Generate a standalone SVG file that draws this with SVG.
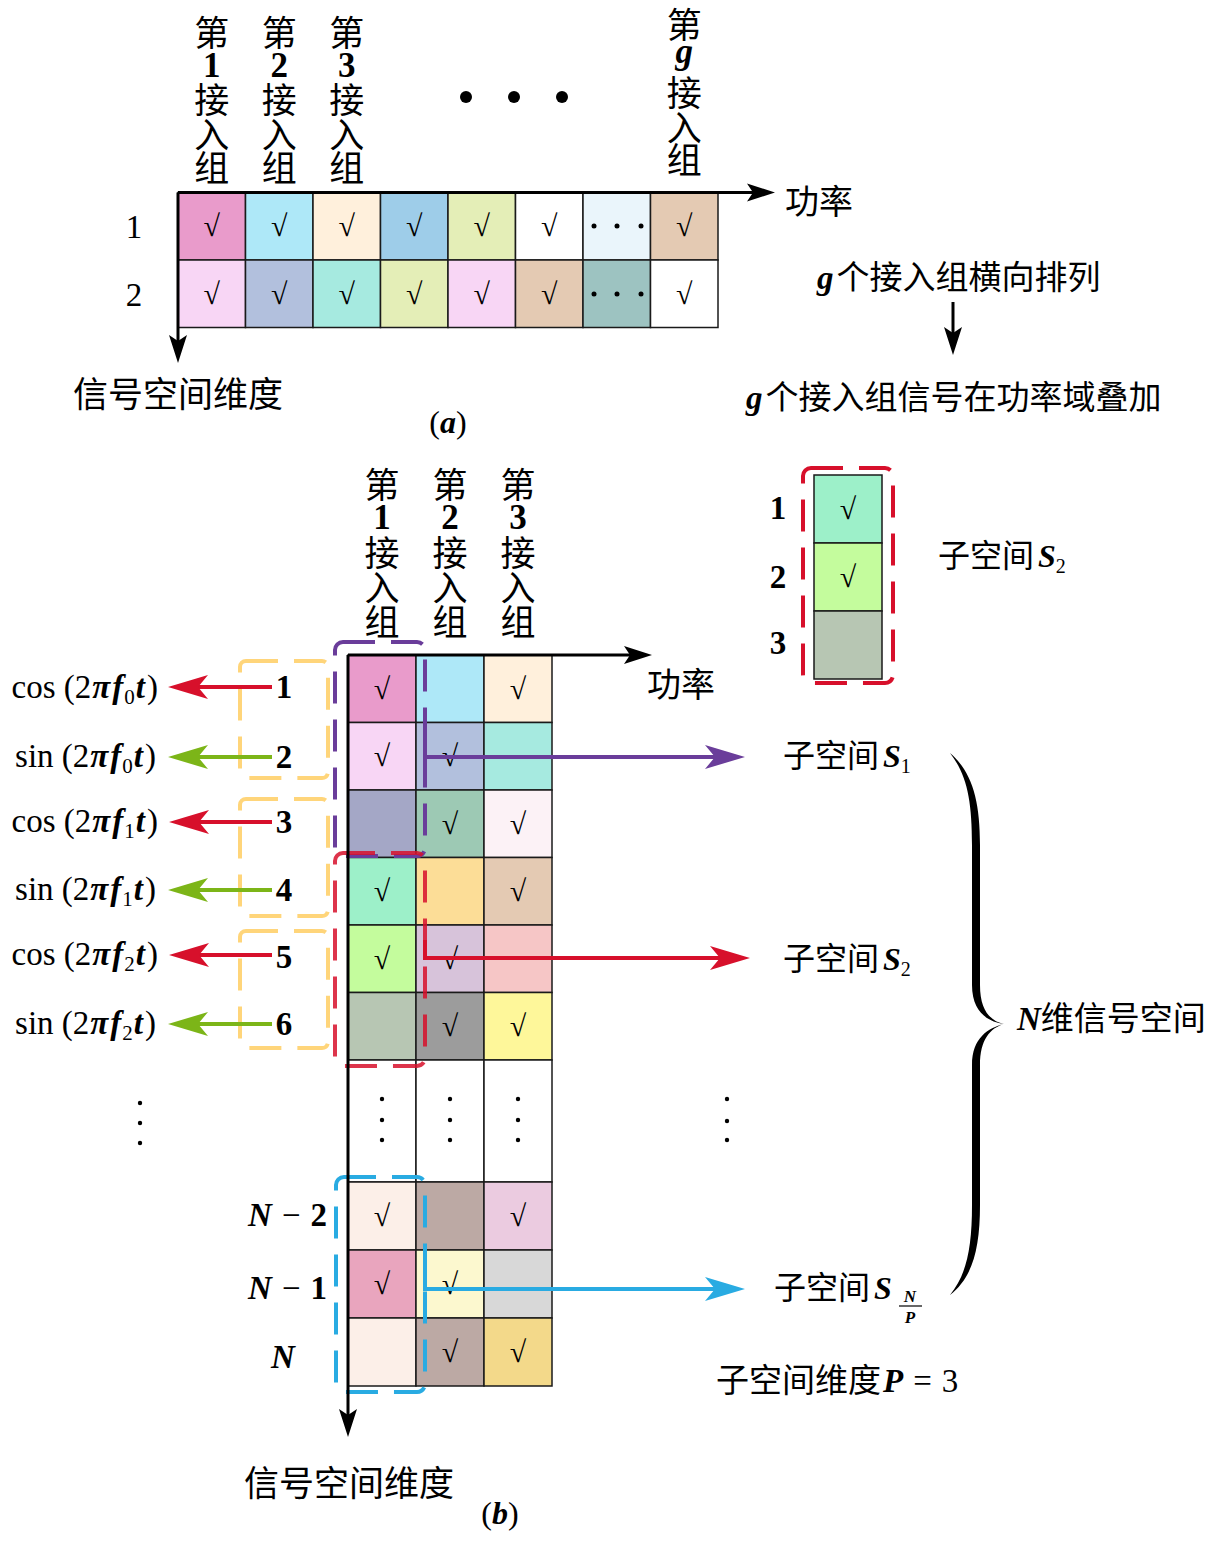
<svg xmlns="http://www.w3.org/2000/svg" width="1218" height="1546" viewBox="0 0 1218 1546">
<defs>
<style>
text { font-family: "Liberation Serif","Noto Sans CJK SC",serif; fill:#000; }
.bi { font-weight:bold; font-style:italic; }
.b { font-weight:bold; }
.ck { font-size:30px; text-anchor:middle; }
.hz { font-size:35px; text-anchor:middle; }
.hd { font-weight:bold; }
.fn { font-size:33px; }
.num { font-size:33px; font-weight:bold; text-anchor:middle; }
.cell { stroke:#1a1a1a; stroke-width:1.5; }
.axis { stroke:#000; stroke-width:3; fill:none; }
.dash { fill:none; stroke-width:4; stroke-dasharray:32 16; }
.conn { fill:none; stroke-width:4; }
.red { stroke:#D7102B; }
.grn { stroke:#7CB518; }
.pur { stroke:#6A3D9A; }
.blu { stroke:#29ABE2; }
.yel { stroke:#FFD57A; }
</style>
<marker id="mk-black" viewBox="-22 -10 32 20" refX="0" refY="0" markerWidth="32" markerHeight="20" markerUnits="userSpaceOnUse" orient="auto"><path d="M8,0 L-20,-9 L-14,0 L-20,9 Z" fill="#000"/></marker>
<marker id="mk-red" viewBox="-34 -14 44 28" refX="0" refY="0" markerWidth="44" markerHeight="28" markerUnits="userSpaceOnUse" orient="auto"><path d="M8,0 L-32,-12 L-22,0 L-32,12 Z" fill="#D7102B"/></marker>
<marker id="mk-grn" viewBox="-34 -14 44 28" refX="0" refY="0" markerWidth="44" markerHeight="28" markerUnits="userSpaceOnUse" orient="auto"><path d="M8,0 L-32,-12 L-22,0 L-32,12 Z" fill="#7CB518"/></marker>
<marker id="mk-pur" viewBox="-34 -14 44 28" refX="0" refY="0" markerWidth="44" markerHeight="28" markerUnits="userSpaceOnUse" orient="auto"><path d="M8,0 L-32,-12 L-22,0 L-32,12 Z" fill="#6A3D9A"/></marker>
<marker id="mk-blu" viewBox="-34 -14 44 28" refX="0" refY="0" markerWidth="44" markerHeight="28" markerUnits="userSpaceOnUse" orient="auto"><path d="M8,0 L-32,-12 L-22,0 L-32,12 Z" fill="#29ABE2"/></marker>
</defs>
<rect width="1218" height="1546" fill="#fff"/>

<!-- ================= (a) ================= -->
<g id="a-headers">
  <text class="hz"><tspan x="211.75" y="46">第</tspan><tspan class="hd" x="211.75" y="77">1</tspan><tspan x="211.75" y="113">接</tspan><tspan x="211.75" y="148">入</tspan><tspan x="211.75" y="181">组</tspan></text>
  <text class="hz"><tspan x="279.25" y="46">第</tspan><tspan class="hd" x="279.25" y="77">2</tspan><tspan x="279.25" y="113">接</tspan><tspan x="279.25" y="148">入</tspan><tspan x="279.25" y="181">组</tspan></text>
  <text class="hz"><tspan x="346.75" y="46">第</tspan><tspan class="hd" x="346.75" y="77">3</tspan><tspan x="346.75" y="113">接</tspan><tspan x="346.75" y="148">入</tspan><tspan x="346.75" y="181">组</tspan></text>
  <text class="hz"><tspan x="684.25" y="38">第</tspan><tspan class="bi" x="684.25" y="63">g</tspan><tspan x="684.25" y="106">接</tspan><tspan x="684.25" y="141">入</tspan><tspan x="684.25" y="173">组</tspan></text>
  <circle cx="466" cy="97" r="6"/><circle cx="514" cy="97" r="6"/><circle cx="562" cy="97" r="6"/>
</g>
<g id="a-row1">
  <rect class="cell" x="178" y="192.5" width="67.5" height="67.5" fill="#E99BCB"/>
  <rect class="cell" x="245.5" y="192.5" width="67.5" height="67.5" fill="#AEE8F8"/>
  <rect class="cell" x="313" y="192.5" width="67.5" height="67.5" fill="#FFF0DC"/>
  <rect class="cell" x="380.5" y="192.5" width="67.5" height="67.5" fill="#9ECDE9"/>
  <rect class="cell" x="448" y="192.5" width="67.5" height="67.5" fill="#E4EEB7"/>
  <rect class="cell" x="515.5" y="192.5" width="67.5" height="67.5" fill="#FFFFFF"/>
  <rect class="cell" x="583" y="192.5" width="67.5" height="67.5" fill="#EAF5FB"/>
  <rect class="cell" x="650.5" y="192.5" width="67.5" height="67.5" fill="#E4CAB3"/>
  <text class="ck" x="211.75" y="236">√</text><text class="ck" x="279.25" y="236">√</text><text class="ck" x="346.75" y="236">√</text><text class="ck" x="414.25" y="236">√</text><text class="ck" x="481.75" y="236">√</text><text class="ck" x="549.25" y="236">√</text><text class="ck" x="684.25" y="236">√</text>
  <circle cx="594" cy="226" r="2.5"/><circle cx="617" cy="226" r="2.5"/><circle cx="641" cy="226" r="2.5"/>
</g>
<g id="a-row2">
  <rect class="cell" x="178" y="260" width="67.5" height="67.5" fill="#F8D6F5"/>
  <rect class="cell" x="245.5" y="260" width="67.5" height="67.5" fill="#B2C0DD"/>
  <rect class="cell" x="313" y="260" width="67.5" height="67.5" fill="#A6EAE0"/>
  <rect class="cell" x="380.5" y="260" width="67.5" height="67.5" fill="#E4EEB7"/>
  <rect class="cell" x="448" y="260" width="67.5" height="67.5" fill="#F8D6F5"/>
  <rect class="cell" x="515.5" y="260" width="67.5" height="67.5" fill="#E4CAB3"/>
  <rect class="cell" x="583" y="260" width="67.5" height="67.5" fill="#9DC3C1"/>
  <rect class="cell" x="650.5" y="260" width="67.5" height="67.5" fill="#FFFFFF"/>
  <text class="ck" x="211.75" y="304">√</text><text class="ck" x="279.25" y="304">√</text><text class="ck" x="346.75" y="304">√</text><text class="ck" x="414.25" y="304">√</text><text class="ck" x="481.75" y="304">√</text><text class="ck" x="549.25" y="304">√</text><text class="ck" x="684.25" y="304">√</text>
  <circle cx="594" cy="294" r="2.5"/><circle cx="617" cy="294" r="2.5"/><circle cx="641" cy="294" r="2.5"/>
</g>
<g id="a-labels">
  <text class="fn" x="134" y="238" text-anchor="middle">1</text>
  <text class="fn" x="134" y="306" text-anchor="middle">2</text>
  <text x="785" y="214" font-size="34">功率</text>
  <text x="817" y="289" font-size="33"><tspan class="bi">g</tspan><tspan dx="3">个接入组横向排列</tspan></text>
  <text x="746" y="409" font-size="33"><tspan class="bi">g</tspan><tspan dx="3">个接入组信号在功率域叠加</tspan></text>
  <text x="73" y="407" font-size="35">信号空间维度</text>
  <text x="448" y="433" font-size="32" text-anchor="middle">(<tspan class="bi">a</tspan>)</text>
</g>

<!-- ================= (b) ================= -->
<g id="b-headers">
  <text class="hz"><tspan x="382" y="498">第</tspan><tspan class="hd" x="382" y="529">1</tspan><tspan x="382" y="566">接</tspan><tspan x="382" y="601">入</tspan><tspan x="382" y="635">组</tspan></text>
  <text class="hz"><tspan x="450" y="498">第</tspan><tspan class="hd" x="450" y="529">2</tspan><tspan x="450" y="566">接</tspan><tspan x="450" y="601">入</tspan><tspan x="450" y="635">组</tspan></text>
  <text class="hz"><tspan x="518" y="498">第</tspan><tspan class="hd" x="518" y="529">3</tspan><tspan x="518" y="566">接</tspan><tspan x="518" y="601">入</tspan><tspan x="518" y="635">组</tspan></text>
</g>
<g id="b-row1">
  <rect class="cell" x="348" y="655" width="68" height="67.5" fill="#E99BCB"/>
  <rect class="cell" x="416" y="655" width="68" height="67.5" fill="#AEE8F8"/>
  <rect class="cell" x="484" y="655" width="68" height="67.5" fill="#FFF0DC"/>
  <text class="ck" x="382" y="699">√</text><text class="ck" x="518" y="699">√</text>
</g>
<g id="b-row2">
  <rect class="cell" x="348" y="722.5" width="68" height="67.5" fill="#F8D6F5"/>
  <rect class="cell" x="416" y="722.5" width="68" height="67.5" fill="#B2C0DD"/>
  <rect class="cell" x="484" y="722.5" width="68" height="67.5" fill="#A6EAE0"/>
  <text class="ck" x="382" y="766">√</text><text class="ck" x="450" y="766">√</text>
</g>
<g id="b-row3">
  <rect class="cell" x="348" y="790" width="68" height="67.5" fill="#A4A7C6"/>
  <rect class="cell" x="416" y="790" width="68" height="67.5" fill="#9DC9B4"/>
  <rect class="cell" x="484" y="790" width="68" height="67.5" fill="#FCF2F6"/>
  <text class="ck" x="450" y="834">√</text><text class="ck" x="518" y="834">√</text>
</g>
<g id="b-row4">
  <rect class="cell" x="348" y="857.5" width="68" height="67.5" fill="#9DF0C9"/>
  <rect class="cell" x="416" y="857.5" width="68" height="67.5" fill="#FCDD97"/>
  <rect class="cell" x="484" y="857.5" width="68" height="67.5" fill="#E4CAB3"/>
  <text class="ck" x="382" y="901">√</text><text class="ck" x="518" y="901">√</text>
</g>
<g id="b-row5">
  <rect class="cell" x="348" y="925" width="68" height="67.5" fill="#C4FC9D"/>
  <rect class="cell" x="416" y="925" width="68" height="67.5" fill="#D7C3DA"/>
  <rect class="cell" x="484" y="925" width="68" height="67.5" fill="#F6C6C6"/>
  <text class="ck" x="382" y="969">√</text><text class="ck" x="450" y="969">√</text>
</g>
<g id="b-row6">
  <rect class="cell" x="348" y="992.5" width="68" height="67.5" fill="#B7C6B3"/>
  <rect class="cell" x="416" y="992.5" width="68" height="67.5" fill="#9C9C9C"/>
  <rect class="cell" x="484" y="992.5" width="68" height="67.5" fill="#FEF79A"/>
  <text class="ck" x="450" y="1036">√</text><text class="ck" x="518" y="1036">√</text>
</g>
<g id="b-rowdots">
  <rect class="cell" x="348" y="1060" width="68" height="122" fill="#FFFFFF"/>
  <rect class="cell" x="416" y="1060" width="68" height="122" fill="#FFFFFF"/>
  <rect class="cell" x="484" y="1060" width="68" height="122" fill="#FFFFFF"/>
  <circle cx="382" cy="1099" r="2.2"/><circle cx="382" cy="1120" r="2.2"/><circle cx="382" cy="1140" r="2.2"/>
  <circle cx="450" cy="1099" r="2.2"/><circle cx="450" cy="1120" r="2.2"/><circle cx="450" cy="1140" r="2.2"/>
  <circle cx="518" cy="1099" r="2.2"/><circle cx="518" cy="1120" r="2.2"/><circle cx="518" cy="1140" r="2.2"/>
</g>
<g id="b-rowN2">
  <rect class="cell" x="348" y="1182" width="68" height="68" fill="#FCEFE8"/>
  <rect class="cell" x="416" y="1182" width="68" height="68" fill="#BCA9A4"/>
  <rect class="cell" x="484" y="1182" width="68" height="68" fill="#EBCBE0"/>
  <text class="ck" x="382" y="1226">√</text><text class="ck" x="518" y="1226">√</text>
</g>
<g id="b-rowN1">
  <rect class="cell" x="348" y="1250" width="68" height="68" fill="#E9A5BE"/>
  <rect class="cell" x="416" y="1250" width="68" height="68" fill="#FCF8CF"/>
  <rect class="cell" x="484" y="1250" width="68" height="68" fill="#D8D8D8"/>
  <text class="ck" x="382" y="1294">√</text><text class="ck" x="450" y="1294">√</text>
</g>
<g id="b-rowN">
  <rect class="cell" x="348" y="1318" width="68" height="68" fill="#FCEFE8"/>
  <rect class="cell" x="416" y="1318" width="68" height="68" fill="#BCA9A4"/>
  <rect class="cell" x="484" y="1318" width="68" height="68" fill="#F3D98A"/>
  <text class="ck" x="450" y="1362">√</text><text class="ck" x="518" y="1362">√</text>
</g>

<g id="legend-S2">
  <rect class="cell" x="814" y="475" width="68" height="68" fill="#9DF0C9"/>
  <rect class="cell" x="814" y="543" width="68" height="68" fill="#C4FC9D"/>
  <rect class="cell" x="814" y="611" width="68" height="68" fill="#B7C6B3"/>
  <text class="ck" x="848" y="519">√</text><text class="ck" x="848" y="587">√</text>
  <rect class="dash red" x="803" y="468" width="90" height="215" rx="8"/>
  <text class="num" x="778" y="519">1</text>
  <text class="num" x="778" y="588">2</text>
  <text class="num" x="778" y="654">3</text>
  <text x="938" y="567" font-size="32">子空间<tspan class="bi" dx="4">S</tspan><tspan font-size="20" dy="6">2</tspan></text>
</g>

<g id="b-boxes">
  <rect class="dash yel" x="240" y="661" width="88" height="117" rx="6"/>
  <rect class="dash yel" x="240" y="799" width="88" height="117" rx="6"/>
  <rect class="dash yel" x="240" y="931" width="88" height="117" rx="6"/>
  <rect class="dash pur" x="335" y="642" width="90" height="214" rx="8"/>
  <rect class="dash red" x="335" y="853" width="90" height="213" rx="8" stroke-opacity="0.85"/>
  <rect class="dash blu" x="336" y="1177" width="89" height="215" rx="8"/>
</g>

<g id="connectors">
  <line class="axis" x1="178" y1="192.5" x2="767" y2="192.5" marker-end="url(#mk-black)"/>
  <line class="axis" x1="178" y1="192.5" x2="178" y2="355" marker-end="url(#mk-black)"/>
  <line class="axis" stroke-width="2.5" x1="953" y1="302" x2="953" y2="347" marker-end="url(#mk-black)"/>
  <line class="axis" x1="348" y1="655" x2="644" y2="655" marker-end="url(#mk-black)"/>
  <line class="axis" x1="348" y1="655" x2="348" y2="1429" marker-end="url(#mk-black)"/>
  <line class="conn red" x1="272" y1="687" x2="176" y2="687" marker-end="url(#mk-red)"/>
  <line class="conn grn" x1="272" y1="757" x2="176" y2="757" marker-end="url(#mk-grn)"/>
  <line class="conn red" x1="272" y1="822" x2="177" y2="822" marker-end="url(#mk-red)"/>
  <line class="conn grn" x1="272" y1="890" x2="176" y2="890" marker-end="url(#mk-grn)"/>
  <line class="conn red" x1="272" y1="955" x2="177" y2="955" marker-end="url(#mk-red)"/>
  <line class="conn grn" x1="272" y1="1024" x2="176" y2="1024" marker-end="url(#mk-grn)"/>
  <polyline class="conn pur" points="425,720 425,757 737,757" marker-end="url(#mk-pur)"/>
  <polyline class="conn red" points="425,940 425,958 742,958" marker-end="url(#mk-red)"/>
  <polyline class="conn blu" points="425,1268 425,1289 737,1289" marker-end="url(#mk-blu)"/>
  <path d="M950,753 C972,772 980,800 980,845 L980,985 C980,1010 990,1021 1004,1024 C988,1022 972,1012 972,985 L972,845 C972,800 967,775 950,753 Z M1004,1024 C990,1028 980,1040 980,1065 L980,1205 C980,1250 972,1278 950,1295 C966,1275 972,1250 972,1205 L972,1065 C972,1038 988,1028 1004,1024 Z" fill="#000"/>
</g>

<g id="b-left-labels">
  <text x="158" y="698" text-anchor="end" font-size="33">cos (2<tspan class="bi" dx="1">π</tspan><tspan class="bi" dx="2">f</tspan><tspan font-size="21" dy="6" dx="1">0</tspan><tspan class="bi" dy="-6" dx="1">t</tspan><tspan dx="2">)</tspan></text>
  <text x="156" y="767" text-anchor="end" font-size="33">sin (2<tspan class="bi" dx="1">π</tspan><tspan class="bi" dx="2">f</tspan><tspan font-size="21" dy="6" dx="1">0</tspan><tspan class="bi" dy="-6" dx="1">t</tspan><tspan dx="2">)</tspan></text>
  <text x="158" y="832" text-anchor="end" font-size="33">cos (2<tspan class="bi" dx="1">π</tspan><tspan class="bi" dx="2">f</tspan><tspan font-size="21" dy="6" dx="1">1</tspan><tspan class="bi" dy="-6" dx="1">t</tspan><tspan dx="2">)</tspan></text>
  <text x="156" y="900" text-anchor="end" font-size="33">sin (2<tspan class="bi" dx="1">π</tspan><tspan class="bi" dx="2">f</tspan><tspan font-size="21" dy="6" dx="1">1</tspan><tspan class="bi" dy="-6" dx="1">t</tspan><tspan dx="2">)</tspan></text>
  <text x="158" y="965" text-anchor="end" font-size="33">cos (2<tspan class="bi" dx="1">π</tspan><tspan class="bi" dx="2">f</tspan><tspan font-size="21" dy="6" dx="1">2</tspan><tspan class="bi" dy="-6" dx="1">t</tspan><tspan dx="2">)</tspan></text>
  <text x="156" y="1034" text-anchor="end" font-size="33">sin (2<tspan class="bi" dx="1">π</tspan><tspan class="bi" dx="2">f</tspan><tspan font-size="21" dy="6" dx="1">2</tspan><tspan class="bi" dy="-6" dx="1">t</tspan><tspan dx="2">)</tspan></text>
  <text class="num" x="284" y="698">1</text>
  <text class="num" x="284" y="768">2</text>
  <text class="num" x="284" y="833">3</text>
  <text class="num" x="284" y="901">4</text>
  <text class="num" x="284" y="968">5</text>
  <text class="num" x="284" y="1035">6</text>
  <circle cx="140" cy="1103" r="2.2"/><circle cx="140" cy="1123" r="2.2"/><circle cx="140" cy="1143" r="2.2"/>
  <text x="327" y="1226" text-anchor="end" font-size="33"><tspan class="bi">N</tspan><tspan dx="10">−</tspan><tspan class="b" dx="10">2</tspan></text>
  <text x="327" y="1299" text-anchor="end" font-size="33"><tspan class="bi">N</tspan><tspan dx="10">−</tspan><tspan class="b" dx="10">1</tspan></text>
  <text x="283" y="1368" text-anchor="middle" font-size="33" class="bi">N</text>
</g>

<g id="b-right-labels">
  <text x="783" y="767" font-size="32">子空间<tspan class="bi" dx="4">S</tspan><tspan font-size="20" dy="6">1</tspan></text>
  <text x="783" y="970" font-size="32">子空间<tspan class="bi" dx="4">S</tspan><tspan font-size="20" dy="6">2</tspan></text>
  <text x="774" y="1299" font-size="32">子空间<tspan class="bi" dx="4">S</tspan></text>
  <text x="910" y="1302" font-size="17" class="bi" text-anchor="middle">N</text>
  <line x1="899" y1="1306" x2="922" y2="1306" stroke="#000" stroke-width="1.2"/>
  <text x="910" y="1323" font-size="17" class="bi" text-anchor="middle">P</text>
  <text x="716" y="1392" font-size="33">子空间维度<tspan class="bi" dx="2">P</tspan><tspan dx="10">=</tspan><tspan dx="10">3</tspan></text>
  <circle cx="727" cy="1099" r="2.2"/><circle cx="727" cy="1121" r="2.2"/><circle cx="727" cy="1140" r="2.2"/>
  <text x="1017" y="1030" font-size="33"><tspan class="bi">N</tspan>维信号空间</text>
  <text x="647" y="697" font-size="34">功率</text>
  <text x="244" y="1496" font-size="35">信号空间维度</text>
  <text x="500" y="1524" font-size="32" text-anchor="middle">(<tspan class="bi">b</tspan>)</text>
</g>
</svg>
